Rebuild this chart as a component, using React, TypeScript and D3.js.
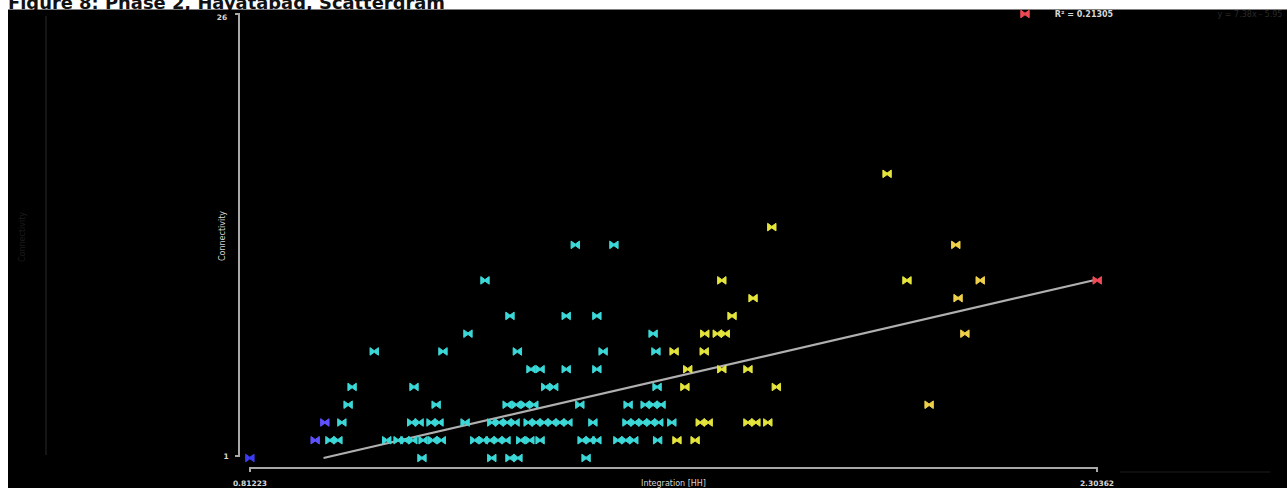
import React from "react";
import * as d3 from "d3";

const TITLE = "Figure 8: Phase 2, Hayatabad, Scattergram";
const X_LABEL = "Integration [HH]";
const Y_LABEL = "Connectivity";
const X_MIN = 0.81223;
const X_MAX = 2.30362;
const X_TICK_LABELS = ["0.81223", "2.30362"];
const Y_MIN = 1;
const Y_MAX = 26;
const R2_LABEL = "R² = 0.21305";
const EQ_LABEL = "y = 7.38x - 5.95";
const REG_SLOPE = 7.38;
const REG_INTERCEPT = -5.95;

// Integration [HH] values grouped by connectivity
const conn1 = [0.812, 1.115, 1.238, 1.27, 1.284, 1.404];
const conn2 = [0.927, 0.953, 0.967, 1.053, 1.073, 1.085, 1.099, 1.117, 1.134, 1.149, 1.208, 1.223, 1.235, 1.249, 1.263, 1.289, 1.305, 1.323, 1.397, 1.411, 1.423, 1.46, 1.474, 1.488, 1.53, 1.564, 1.596];
const conn3 = [0.944, 0.974, 1.097, 1.11, 1.131, 1.145, 1.191, 1.238, 1.251, 1.265, 1.279, 1.302, 1.316, 1.33, 1.344, 1.358, 1.372, 1.416, 1.476, 1.49, 1.504, 1.518, 1.532, 1.555, 1.605, 1.619, 1.689, 1.703, 1.724];
const conn4 = [0.985, 1.14, 1.265, 1.281, 1.297, 1.312, 1.393, 1.478, 1.508, 1.522, 1.536, 2.008];
const conn5 = [0.992, 1.101, 1.333, 1.347, 1.529, 1.578, 1.739];
const conn6 = [1.307, 1.323, 1.369, 1.423, 1.583, 1.643, 1.689];
const conn7 = [1.031, 1.152, 1.283, 1.434, 1.527, 1.559, 1.612];
const conn8 = [1.196, 1.522, 1.613, 1.635, 1.649, 2.071];
const conn9 = [1.27, 1.369, 1.423, 1.661];
const conn10 = [1.698, 2.059];
const conn11 = [1.226, 1.643, 1.969, 2.098, 2.304];
const conn13 = [1.385, 1.453, 2.055];
const conn14 = [1.731];
const conn17 = [1.934];

const groups: [number, number[]][] = [
  [1, conn1], [2, conn2], [3, conn3], [4, conn4], [5, conn5], [6, conn6], [7, conn7],
  [8, conn8], [9, conn9], [10, conn10], [11, conn11], [13, conn13], [14, conn14], [17, conn17],
];

const COLOR_BREAKS = [0.9, 0.95, 1.557, 2.0, 2.2];
const COLORS = ["#3c3cf2", "#5e52ff", "#3cd8d8", "#e4e43c", "#efd04a", "#f04a55"];

export default function App() {
  const W = 1287;
  const H = 488;
  const x = d3.scaleLinear().domain([X_MIN, X_MAX]).range([250, 1097]);
  const y = d3.scaleLinear().domain([Y_MIN, Y_MAX]).range([458, 14]);
  const color = d3.scaleThreshold<number, string>().domain(COLOR_BREAKS).range(COLORS);

  const points = groups.flatMap(([c, xs]) => xs.map((v) => ({ x: v, y: c })));

  const regStartX = (Y_MIN - REG_INTERCEPT) / REG_SLOPE;
  const regData: [number, number][] = [
    [regStartX, REG_SLOPE * regStartX + REG_INTERCEPT],
    [X_MAX, REG_SLOPE * X_MAX + REG_INTERCEPT],
  ];
  const line = d3.line<[number, number]>().x((d) => x(d[0])).y((d) => y(d[1]));

  const marker = "M-4.2,-3.8L0,-0.8L4.2,-3.8V3.8L0,0.8L-4.2,3.8Z";
  const axisColor = "#a8a8a8";
  const labelColor = "#d6d6d6";
  const ghost = "#1c1c1c";

  return (
    <svg
      width={W}
      height={H}
      style={{ position: "absolute", left: 0, top: 0, display: "block" }}
      fontFamily="DejaVu Sans, Verdana, sans-serif"
    >
      <rect x={0} y={0} width={W} height={H} fill="#ffffff" />
      <text x={8} y={9} fontSize={17} fontWeight="bold" fill="#111" textLength={437} lengthAdjust="spacingAndGlyphs">
        {TITLE}
      </text>
      <rect x={8} y={9.5} width={W - 8} height={H - 9.5} fill="#000" />

      {/* faint ghost elements */}
      <line x1={46} x2={46} y1={16} y2={455} stroke={ghost} strokeWidth={1.5} />
      <text transform="translate(25,237) rotate(-90)" fontSize={8} fill={ghost} textAnchor="middle">{Y_LABEL}</text>
      <line x1={1120} x2={1270} y1={472} y2={472} stroke={ghost} strokeWidth={1} />
      <text x={1250} y={17} fontSize={8} fill="#2a2a2a" textAnchor="middle">{EQ_LABEL}</text>

      {/* axes */}
      <path d={`M235,${y(Y_MAX)}H239V${y(Y_MIN) - 2}H235`} fill="none" stroke={axisColor} strokeWidth={2} />
      <path d={`M${x(X_MIN)},472V468H${x(X_MAX)}V472`} fill="none" stroke={axisColor} strokeWidth={2} />
      <text x={222} y={y(Y_MAX) + 6} fontSize={7.5} fontWeight="bold" fill={labelColor} textAnchor="middle">{Y_MAX}</text>
      <text x={226} y={y(Y_MIN) + 1} fontSize={7.5} fontWeight="bold" fill={labelColor} textAnchor="middle">{Y_MIN}</text>
      <text transform={`translate(225,${(y(Y_MIN) + y(Y_MAX)) / 2}) rotate(-90)`} fontSize={8} fill={labelColor} textAnchor="middle">{Y_LABEL}</text>
      <text x={x(X_MIN)} y={486} fontSize={7.5} fontWeight="bold" fill={labelColor} textAnchor="middle">{X_TICK_LABELS[0]}</text>
      <text x={x(X_MAX)} y={486} fontSize={7.5} fontWeight="bold" fill={labelColor} textAnchor="middle">{X_TICK_LABELS[1]}</text>
      <text x={(x(X_MIN) + x(X_MAX)) / 2} y={486} fontSize={8} fill={labelColor} textAnchor="middle">{X_LABEL}</text>

      {/* regression line */}
      <path d={line(regData) || ""} fill="none" stroke="#b0b0b0" strokeWidth={2.2} />

      {/* points */}
      {points.map((p, i) => (
        <path
          key={i}
          d={marker}
          transform={`translate(${x(p.x)},${y(p.y)})`}
          fill={color(p.x)}
          stroke={color(p.x)}
          strokeWidth={1}
          strokeLinejoin="round"
        />
      ))}

      {/* legend */}
      <path d={marker} transform="translate(1025,14)" fill={COLORS[5]} stroke={COLORS[5]} strokeWidth={1} />
      <text x={1084} y={17} fontSize={8} fontWeight="bold" fill={labelColor} textAnchor="middle">{R2_LABEL}</text>
    </svg>
  );
}
